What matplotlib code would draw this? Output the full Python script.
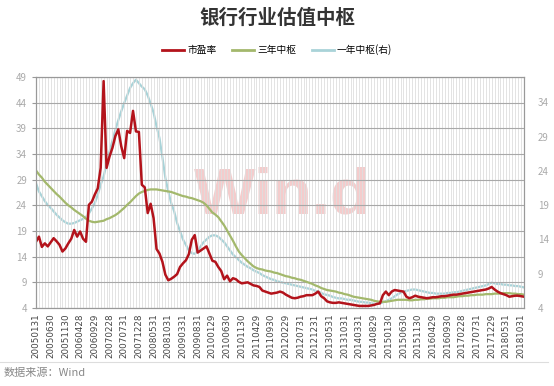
import numpy as np
import pandas as pd
import matplotlib
matplotlib.use("Agg")
import matplotlib.pyplot as plt
from matplotlib.lines import Line2D

plt.rcParams['font.family'] = ['Noto Sans CJK SC', 'DejaVu Sans']

# monthly, 2005-01 .. 2018-11
months = pd.date_range("2005-01-01", periods=167, freq="ME")

pe = [16.9, 17.9, 15.9, 16.6, 16.0, 16.8, 17.6, 17.0, 16.3, 15.0,
      15.6, 16.6, 17.5, 19.2, 17.9, 18.9, 17.5, 16.9, 24.1, 24.7,
      26.1, 27.3, 31.3, 48.2, 31.3, 33.5, 35.2, 37.5, 38.8, 35.5,
      33.2, 38.5, 38.1, 42.4, 38.4, 38.3, 28.0, 27.5, 22.5, 24.3,
      21.5, 15.5, 14.6, 13.0, 10.5, 9.4, 9.7, 10.1, 10.6, 12.0,
      12.7, 13.3, 14.5, 17.3, 18.2, 14.8, 15.2, 15.6, 16.0, 14.6,
      13.2, 13.0, 12.0, 11.2, 9.6, 10.3, 9.2, 9.8, 9.6, 9.1,
      8.8, 8.9, 9.0, 8.7, 8.4, 8.3, 8.1, 7.4, 7.2, 7.0,
      6.8, 6.9, 7.0, 7.2, 7.0, 6.6, 6.3, 6.0, 5.9, 6.0,
      6.2, 6.3, 6.5, 6.5, 6.5, 6.8, 7.2, 6.3, 5.9, 5.3,
      5.1, 5.0, 5.0, 5.1, 5.0, 4.9, 4.8, 4.7, 4.6, 4.5,
      4.4, 4.4, 4.4, 4.4, 4.5, 4.6, 4.8, 4.9, 6.5, 7.2,
      6.5, 7.2, 7.5, 7.4, 7.3, 7.2, 6.2, 5.9, 6.1, 6.4,
      6.2, 6.1, 6.0, 5.9, 6.0, 6.1, 6.1, 6.2, 6.3, 6.3,
      6.4, 6.5, 6.6, 6.6, 6.7, 6.8, 6.9, 7.0, 7.1, 7.2,
      7.3, 7.4, 7.5, 7.6, 7.8, 8.1, 7.6, 7.2, 6.9, 6.7,
      6.5, 6.2, 6.3, 6.4, 6.4, 6.3, 6.2]

mid3y = [30.8, 30.0, 29.4, 28.6, 28.0, 27.4, 26.8, 26.2, 25.7, 25.1,
         24.5, 24.0, 23.6, 23.1, 22.7, 22.3, 21.9, 21.4, 21.0, 20.8,
         20.7, 20.8, 20.9, 21.0, 21.3, 21.5, 21.8, 22.1, 22.5, 23.0,
         23.5, 24.1, 24.6, 25.2, 25.8, 26.3, 26.6, 26.8, 27.0, 27.1,
         27.1, 27.1, 27.0, 26.9, 26.8, 26.7, 26.6, 26.4, 26.2, 26.0,
         25.8, 25.7, 25.5, 25.4, 25.2, 25.0, 24.8, 24.5, 24.0, 23.3,
         22.6, 22.2, 21.7, 20.9, 20.1, 19.1, 18.1, 17.1, 16.0, 15.0,
         14.3, 13.7, 13.1, 12.6, 12.1, 11.8, 11.6, 11.5, 11.3, 11.2,
         11.1, 10.9, 10.8, 10.6, 10.4, 10.2, 10.1, 9.9, 9.8, 9.6,
         9.5, 9.3, 9.1, 8.9, 8.7, 8.4, 8.2, 7.9, 7.7, 7.5,
         7.4, 7.3, 7.2, 7.0, 6.9, 6.7, 6.6, 6.4, 6.2, 6.1,
         6.0, 5.9, 5.8, 5.7, 5.6, 5.4, 5.3, 5.2, 5.2, 5.2,
         5.3, 5.4, 5.5, 5.6, 5.6, 5.6, 5.6, 5.5, 5.5, 5.6,
         5.6, 5.7, 5.7, 5.8, 5.8, 5.9, 5.9, 5.9, 6.0, 6.0,
         6.1, 6.1, 6.1, 6.2, 6.3, 6.3, 6.4, 6.4, 6.5, 6.5,
         6.6, 6.6, 6.6, 6.7, 6.7, 6.7, 6.8, 6.8, 6.8, 6.9,
         6.9, 6.9, 6.8, 6.8, 6.7, 6.7, 6.6]

mid1y = [22.2, 21.0, 20.3, 19.6, 19.0, 18.6, 18.1, 17.6, 17.2, 16.8,
         16.5, 16.3, 16.3, 16.4, 16.6, 16.8, 17.0, 17.3, 17.8, 18.5,
         19.3, 20.5, 22.0, 23.2, 25.0, 26.8, 28.4, 30.0, 31.4, 32.7,
         33.9, 35.0, 36.1, 36.8, 37.3, 36.8, 36.3, 35.9, 35.0, 33.8,
         32.5, 30.5, 28.8, 26.0, 23.0, 21.0, 19.3, 18.1, 16.4, 15.2,
         14.0, 13.2, 12.4, 12.0, 11.9, 12.3, 13.0, 13.6, 14.0, 14.4,
         14.6, 14.6, 14.4, 14.0, 13.6, 13.0, 12.4, 11.8, 11.4, 11.0,
         10.6, 10.3, 10.0, 9.8, 9.5, 9.3, 9.1, 8.8, 8.6, 8.4,
         8.2, 8.1, 7.9, 7.8, 7.7, 7.6, 7.5, 7.4, 7.3, 7.2,
         7.1, 7.0, 6.9, 6.8, 6.7, 6.5, 6.4, 6.2, 6.0, 5.9,
         5.8, 5.6, 5.5, 5.4, 5.4, 5.3, 5.2, 5.2, 5.1, 5.0,
         4.9, 4.9, 4.8, 4.8, 4.7, 4.6, 4.6, 4.7, 4.8, 5.0,
         5.2, 5.4, 5.7, 6.0, 6.2, 6.4, 6.5, 6.6, 6.7, 6.7,
         6.6, 6.5, 6.4, 6.3, 6.2, 6.2, 6.1, 6.1, 6.1, 6.1,
         6.2, 6.2, 6.3, 6.3, 6.4, 6.5, 6.6, 6.7, 6.8, 6.9,
         7.0, 7.1, 7.2, 7.3, 7.5, 7.7, 7.6, 7.5, 7.5, 7.4,
         7.4, 7.3, 7.3, 7.2, 7.2, 7.1, 7.0]

left_ticks = [4, 9, 14, 19, 24, 29, 34, 39, 44, 49]
right_ticks = [4, 9, 14, 19, 24, 29, 34]
labels = ["市盈率", "三年中枢", "一年中枢(右)"]
colors = ["#b3131b", "#a3b86c", "#a9d3d8"]

x = np.arange(len(months))
xlabels = [d.strftime("%Y%m%d") for d in months]
# Wind prints the last trading day, not the calendar month end
fix = {"20060430": "20060428", "20060930": "20060929", "20071231": "20071228",
       "20100131": "20100129", "20110430": "20110429",
       "20140831": "20140829", "20150131": "20150130", "20160430": "20160429",
       "20171231": "20171229"}
xlabels = [fix.get(s, s) for s in xlabels]

fig = plt.figure(figsize=(5.54, 3.86), dpi=100)
ax = fig.add_axes([36/554, 78/386, 488/554, 231/386])
ax2 = ax.twinx()

ax2.plot(x, mid1y, color=colors[2], lw=1.6)
ax.plot(x, mid3y, color=colors[1], lw=1.6)
ax.plot(x, pe, color=colors[0], lw=1.8)

ax.set_zorder(ax2.get_zorder() + 1)
ax.patch.set_visible(False)

ax.set_xlim(0, len(x) - 1)
ax.set_ylim(4, 49)
ax2.set_ylim(4, 37.7)
ax.set_yticks(left_ticks)
ax2.set_yticks(right_ticks)

ax.set_xticks(x[::5])
ax.set_xticklabels(xlabels[::5], rotation=90, fontsize=6.3, color="#444444",
                   family="DejaVu Sans")
ax.set_xticks(x, minor=True)
ax.grid(axis="x", which="minor", color="#dedede", lw=0.6)
ax.grid(axis="x", which="major", color="#dedede", lw=0.6)
ax.grid(axis="y", color="#a8a8a8", lw=0.8)
ax.tick_params(axis="x", which="both", length=0, pad=4)
ax.tick_params(axis="y", length=3, color="#999999", labelsize=7, labelcolor="#aaaaaa")
ax2.tick_params(axis="y", length=0, labelsize=7, labelcolor="#aaaaaa", pad=10)

for a in (ax, ax2):
    for s in a.spines.values():
        s.set_color("#999999")
        s.set_linewidth(0.8)

fig.text(282/554, 1 - 196/386, "Win.d", ha="center", va="center",
         fontsize=47, fontweight="bold", family="Liberation Sans",
         color="#eba3a3", alpha=0.55, zorder=0)

fig.text(0.5, 1 - 18/386, "银行行业估值中枢", ha="center", va="center",
         fontsize=14, fontweight="bold", color="#333333")

handles = [Line2D([], [], color=c, lw=2) for c in colors]
fig.legend(handles, labels, loc="center", bbox_to_anchor=(277/554, 1 - 50/386),
           ncol=3, frameon=False, fontsize=7, handlelength=2.3,
           handletextpad=0.3, columnspacing=1.6)

fig.add_artist(Line2D([0, 0.99], [1 - 362/386, 1 - 362/386], color="#dddddd", lw=0.8))
fig.text(4/554, 1 - 373/386, "数据来源：Wind", ha="left", va="center",
         fontsize=8, color="#888888")

fig.savefig("out.png", dpi=100)
